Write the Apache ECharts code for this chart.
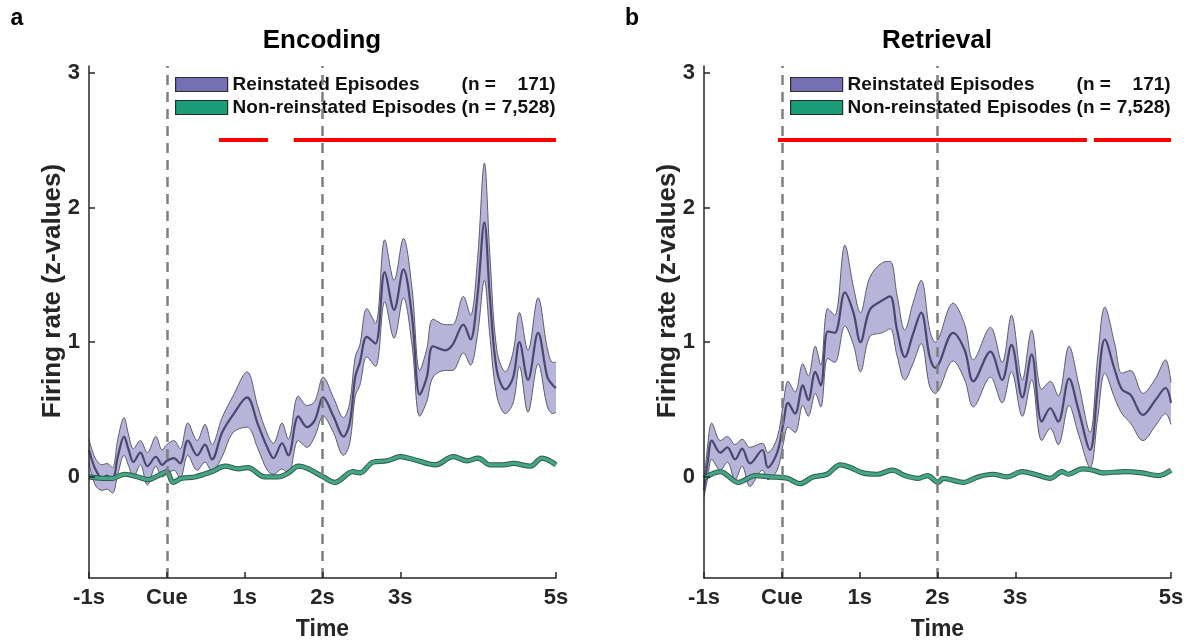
<!DOCTYPE html>
<html>
<head>
<meta charset="utf-8">
<script src="https://cdn.jsdelivr.net/npm/echarts@6/dist/echarts.min.js"></script>
<style>
html, body { margin: 0; padding: 0; background: #fff; }
#chart { width: 1190px; height: 641px; }
</style>
</head>
<body>
<div id="chart"></div>
<script>
// encoding panel, reinstated episodes (time in s from cue)
var encT    = [-1.00,-0.92,-0.83,-0.77,-0.70,-0.63,-0.55,-0.49,-0.43,-0.34,-0.25,-0.14,-0.06,0.00,0.09,0.17,0.27,0.39,0.49,0.58,0.71,0.85,1.03,1.17,1.29,1.37,1.48,1.56,1.69,1.80,1.90,2.01,2.14,2.27,2.35,2.42,2.48,2.57,2.68,2.80,2.92,3.04,3.15,3.25,3.34,3.42,3.58,3.67,3.81,3.90,3.99,4.08,4.15,4.24,4.35,4.45,4.53,4.64,4.77,4.89,4.96,5.00];
var encMean = [0.20,0.06,-0.01,0.01,-0.02,0.15,0.30,0.20,0.11,0.18,0.08,0.15,0.09,0.12,0.14,0.10,0.27,0.16,0.24,0.13,0.33,0.46,0.59,0.39,0.22,0.14,0.25,0.16,0.45,0.37,0.42,0.59,0.45,0.30,0.40,0.74,0.85,1.04,0.99,1.52,1.24,1.54,1.19,0.61,0.74,0.97,0.94,0.98,1.13,1.02,1.34,1.89,1.34,0.79,0.65,0.74,1.00,0.72,1.07,0.74,0.68,0.66];
var encLo   = [0.10,-0.06,-0.10,-0.09,-0.12,0.02,0.16,0.08,0.00,0.09,-0.06,0.08,0.00,0.02,0.05,-0.01,0.16,0.05,0.11,0.04,0.15,0.33,0.37,0.21,0.05,0.02,0.06,0.02,0.27,0.22,0.30,0.45,0.33,0.16,0.25,0.60,0.68,0.89,0.82,1.30,1.03,1.33,0.98,0.45,0.56,0.74,0.79,0.79,0.92,0.83,1.05,1.46,1.05,0.60,0.47,0.55,0.82,0.48,0.84,0.52,0.47,0.48];
var encHi   = [0.28,0.14,0.09,0.10,0.07,0.28,0.44,0.31,0.21,0.27,0.18,0.30,0.20,0.24,0.27,0.21,0.40,0.27,0.39,0.24,0.44,0.60,0.78,0.52,0.32,0.25,0.40,0.28,0.60,0.53,0.56,0.74,0.59,0.44,0.55,0.89,0.98,1.25,1.14,1.76,1.46,1.77,1.40,0.79,0.95,1.17,1.13,1.13,1.34,1.20,1.60,2.33,1.65,0.94,0.78,0.93,1.22,0.94,1.33,0.95,0.85,0.85];
// encoding panel, non-reinstated episodes
var encGreenT    = [-1.00,-0.83,-0.70,-0.54,-0.37,-0.24,-0.11,0.00,0.08,0.19,0.36,0.58,0.75,0.92,1.04,1.26,1.43,1.56,1.69,1.82,2.01,2.16,2.39,2.48,2.65,2.83,3.00,3.17,3.45,3.68,3.86,4.00,4.15,4.32,4.45,4.67,4.82,5.00];
var encGreenMean = [0.00,-0.01,-0.01,0.02,0.00,-0.02,0.01,0.04,-0.04,-0.01,0.00,0.04,0.08,0.06,0.07,0.00,0.00,0.03,0.08,0.06,0.00,-0.04,0.04,0.03,0.11,0.12,0.15,0.13,0.09,0.15,0.12,0.14,0.09,0.09,0.10,0.08,0.14,0.09];

// retrieval panel, reinstated episodes
var retT    = [-1.00,-0.95,-0.90,-0.79,-0.70,-0.60,-0.51,-0.41,-0.25,-0.18,-0.06,0.02,0.08,0.17,0.27,0.34,0.43,0.50,0.59,0.68,0.81,0.92,1.01,1.13,1.29,1.39,1.48,1.58,1.69,1.79,1.90,1.97,2.20,2.35,2.46,2.68,2.83,2.95,3.09,3.21,3.34,3.45,3.55,3.69,3.81,3.96,4.06,4.15,4.28,4.37,4.48,4.64,4.80,4.93,5.00];
var retMean = [-0.10,0.12,0.27,0.18,0.22,0.13,0.21,0.10,0.20,0.07,0.18,0.40,0.55,0.47,0.68,0.57,0.78,0.68,1.08,1.07,1.37,1.22,1.00,1.24,1.31,1.34,1.09,0.89,1.07,1.22,0.89,0.81,1.07,0.94,0.71,0.93,0.72,0.98,0.59,0.91,0.41,0.51,0.41,0.73,0.50,0.20,0.67,1.02,0.79,0.65,0.61,0.46,0.57,0.66,0.55];
var retLo   = [-0.15,0.00,0.13,0.05,0.11,-0.02,0.08,-0.07,0.05,-0.02,0.05,0.25,0.37,0.33,0.53,0.45,0.62,0.52,0.88,0.85,1.12,0.98,0.78,1.04,1.07,1.10,0.90,0.72,0.85,0.99,0.67,0.62,0.86,0.72,0.52,0.74,0.55,0.78,0.45,0.72,0.27,0.36,0.24,0.53,0.32,0.07,0.45,0.77,0.58,0.47,0.40,0.27,0.38,0.47,0.39];
var retHi   = [-0.05,0.25,0.40,0.27,0.30,0.24,0.28,0.22,0.25,0.18,0.29,0.55,0.71,0.63,0.84,0.75,0.97,0.83,1.25,1.20,1.72,1.41,1.22,1.48,1.59,1.60,1.35,1.09,1.30,1.46,1.09,1.00,1.29,1.13,0.87,1.11,0.85,1.20,0.72,1.09,0.65,0.71,0.60,0.97,0.70,0.33,0.90,1.26,0.98,0.77,0.79,0.62,0.73,0.87,0.70];
// retrieval panel, non-reinstated episodes
var retGreenT    = [-1.00,-0.79,-0.56,-0.34,-0.15,0.07,0.23,0.40,0.58,0.75,0.88,1.04,1.22,1.42,1.58,1.75,1.87,2.01,2.07,2.33,2.52,2.71,2.89,3.09,3.25,3.45,3.60,3.68,3.86,4.00,4.12,4.41,4.63,4.84,5.00];
var retGreenMean = [-0.01,0.04,-0.04,0.01,0.00,-0.01,-0.05,0.00,0.02,0.09,0.07,0.03,0.02,0.05,0.01,-0.01,0.01,-0.04,-0.01,-0.04,0.00,0.02,0.00,0.04,0.02,-0.01,0.04,0.02,0.06,0.05,0.03,0.04,0.03,0.01,0.05];
// SEM of the non-reinstated curve (z units, roughly constant)
var greenSem = 0.012;

// significant clusters (start, end) and their height
var encSig = [[0.67, 1.30], [1.63, 5.00]];
var retSig = [[-0.05, 3.92], [4.01, 5.00]];
var sigLevel = 2.5;

var xTickVals = [-1, 0, 1, 2, 3, 5];
var xTickLabels = ['-1s', 'Cue', '1s', '2s', '3s', '5s'];
var yTickVals = [0, 1, 2, 3];
var eventTimes = [0, 2];
var panelTitles = ['Encoding', 'Retrieval'];
var panelLetters = ['a', 'b'];
var legendNames = ['Reinstated Episodes', 'Non-reinstated Episodes'];
var legendCounts = ['171', '7,528'];

var FONT = '"Liberation Sans", Arial, sans-serif';
var INK = '#262626';
var PURPLE = '#7570b3';
var GREEN = '#1b9e77';

var chart = echarts.init(document.getElementById('chart'));

function pairs(t, v) {
	return t.map(function (x, i) { return [x, v[i]]; });
}
// half-width of the non-reinstated SEM band in pixels (512 px span over 3.8 z units)
function greenSemPx() {
	return greenSem * 512 / 3.8;
}

var grids = [], xAxes = [], yAxes = [], series = [], legends = [], graphics = [];
var panels = [
	{ left: 89, t: encT, m: encMean, lo: encLo, hi: encHi, gt: encGreenT, gm: encGreenMean, sig: encSig },
	{ left: 704, t: retT, m: retMean, lo: retLo, hi: retHi, gt: retGreenT, gm: retGreenMean, sig: retSig }
];

panels.forEach(function (p, i) {
	grids.push({ left: p.left, top: 66, width: 467, height: 512, outerBoundsMode: 'none' });
	xAxes.push({
		gridIndex: i, type: 'value', min: -1, max: 5, z: 5,
		name: 'Time', nameLocation: 'middle', nameGap: 40,
		nameTextStyle: { fontFamily: FONT, fontSize: 23, fontWeight: 'bold', color: INK },
		axisLine: { onZero: false, lineStyle: { color: INK, width: 1.5 } },
		axisTick: { inside: true, length: 6, customValues: xTickVals, lineStyle: { color: INK, width: 1.5 } },
		axisLabel: {
			customValues: xTickVals, margin: 9,
			fontFamily: FONT, fontSize: 22, fontWeight: 'bold', color: INK,
			formatter: function (v) { return xTickLabels[xTickVals.indexOf(v)]; }
		},
		splitLine: { show: false }
	});
	yAxes.push({
		gridIndex: i, type: 'value', min: -0.75, max: 3.05, z: 5,
		axisLine: { show: true, onZero: false, lineStyle: { color: INK, width: 1.5 } },
		axisTick: { show: true, inside: true, length: 6, customValues: yTickVals, lineStyle: { color: INK, width: 1.5 } },
		axisLabel: { customValues: yTickVals, margin: 9, fontFamily: FONT, fontSize: 22, fontWeight: 'bold', color: INK },
		splitLine: { show: false }
	});

	var common = { type: 'line', xAxisIndex: i, yAxisIndex: i, symbol: 'none', smooth: 0.35, silent: true };
	// reinstated: SEM band = upper area filled, lower area painted white
	series.push(Object.assign({}, common, {
		data: pairs(p.t, p.hi),
		lineStyle: { color: '#5c5b6e', width: 1 },
		areaStyle: { color: '#b7b4da', opacity: 1, origin: 'start' }
	}));
	series.push(Object.assign({}, common, {
		data: pairs(p.t, p.lo),
		lineStyle: { color: '#5c5b6e', width: 1 },
		areaStyle: { color: '#ffffff', opacity: 1, origin: 'start' }
	}));
	series.push(Object.assign({}, common, {
		name: legendNames[0], data: pairs(p.t, p.m),
		lineStyle: { color: '#4a4870', width: 2.2 }, itemStyle: { color: PURPLE }
	}));
	// non-reinstated: thin band drawn as outlined line
	series.push(Object.assign({}, common, {
		data: pairs(p.gt, p.gm),
		lineStyle: { color: '#2f5e4e', width: 2 * greenSemPx() + 2 }
	}));
	series.push(Object.assign({}, common, {
		name: legendNames[1], data: pairs(p.gt, p.gm),
		lineStyle: { color: '#45a685', width: 2 * greenSemPx() }, itemStyle: { color: GREEN },
		markLine: {
			silent: true, symbol: ['none', 'none'], label: { show: false },
			lineStyle: { color: '#7f7f7f', type: [10, 7], width: 2.5 },
			data: eventTimes.map(function (t) { return { xAxis: t }; })
		}
	}));
	// significance bars
	p.sig.forEach(function (s) {
		series.push({
			type: 'line', xAxisIndex: i, yAxisIndex: i, symbol: 'none', silent: true,
			data: [[s[0], sigLevel], [s[1], sigLevel]],
			lineStyle: { color: '#ff0000', width: 4 }
		});
	});

	legends.push({
		orient: 'vertical', left: p.left + 86, top: 75, padding: 0,
		itemWidth: 52, itemHeight: 14, itemGap: 4, icon: 'rect', selectedMode: false,
		data: [
			{ name: legendNames[0], itemStyle: { color: PURPLE, borderColor: '#2b2b2b', borderWidth: 1.2 } },
			{ name: legendNames[1], itemStyle: { color: GREEN, borderColor: '#2b2b2b', borderWidth: 1.2 } }
		],
		formatter: function (name) {
			var k = legendNames.indexOf(name);
			return '{n|' + name + '}{p|(n =}{v|' + legendCounts[k] + ')}';
		},
		textStyle: {
			fontFamily: FONT, fontSize: 19, fontWeight: 'bold', color: '#111',
			rich: {
				n: { width: 229, lineHeight: 22, fontFamily: FONT, fontSize: 19, fontWeight: 'bold', color: '#111' },
				p: { width: 40, lineHeight: 22, fontFamily: FONT, fontSize: 19, fontWeight: 'bold', color: '#111' },
				v: { width: 54, lineHeight: 22, align: 'right', fontFamily: FONT, fontSize: 19, fontWeight: 'bold', color: '#111' }
			}
		}
	});

	graphics.push({
		type: 'text', x: p.left + 233, y: 41,
		style: { text: panelTitles[i], font: 'bold 26px ' + FONT, fill: '#000', textAlign: 'center', textVerticalAlign: 'middle' }
	});
	graphics.push({
		type: 'text', x: p.left - 72, y: 19,
		style: { text: panelLetters[i], font: 'bold 23px ' + FONT, fill: '#000', textAlign: 'center', textVerticalAlign: 'middle' }
	});
	graphics.push({
		type: 'text', x: p.left - 36, y: 291, rotation: Math.PI / 2,
		style: { text: 'Firing rate (z-values)', font: 'bold 26px ' + FONT, fill: INK, textAlign: 'center', textVerticalAlign: 'middle' }
	});
});

chart.setOption({
	animation: false,
	backgroundColor: '#fff',
	grid: grids,
	xAxis: xAxes,
	yAxis: yAxes,
	legend: legends,
	graphic: graphics,
	series: series
});
</script>
</body>
</html>
